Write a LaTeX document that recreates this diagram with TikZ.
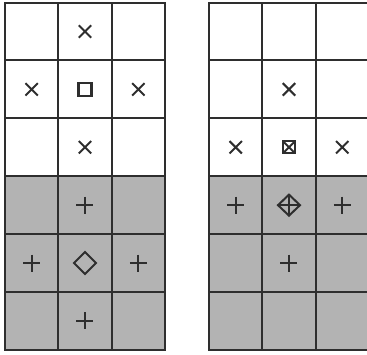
\documentclass[tikz,border=0pt]{standalone}
\definecolor{ln}{HTML}{2E2E2E}
\definecolor{sh}{HTML}{B3B3B3}
\tikzset{
  cell/.style={draw=ln, line width=2pt, minimum width=53.33pt, minimum height=57.9pt, inner sep=0pt, outer sep=0pt},
  shaded/.style={cell, fill=sh},
  sym/.style={draw=ln, line width=2pt},
  pics/xm/.style={code={\draw[sym] (-6.2,-6.2)--(6.2,6.2) (-6.2,6.2)--(6.2,-6.2);}},
  pics/pm/.style={code={\draw[sym] (-8.5,0)--(8.5,0) (0,-8.5)--(0,8.5);}},
  pics/sqm/.style={code={\draw[sym, line width=2.4pt] (-6.4,-6.4) rectangle (6.4,6.4);}},
  pics/dm/.style={code={\draw[sym] (-11,0)--(0,-11)--(11,0)--(0,11)--cycle;}},
  pics/bxm/.style={code={\draw[sym, line width=2.4pt] (-6,-6) rectangle (6,6); \draw[sym] (-6,-6)--(6,6) (-6,6)--(6,-6);}},
  pics/dpm/.style={code={\draw[sym] (-11,0)--(0,-10.5)--(11,0)--(0,10.5)--cycle; \draw[sym] (-11,0)--(11,0) (0,-10.5)--(0,10.5);}}
}
\begin{document}
\begin{tikzpicture}[x=1pt,y=-1pt]
\useasboundingbox (0,0) rectangle (367,354);
\foreach \g/\xo in {L/5,R/209}{
  \foreach \r in {1,...,6}{
    \foreach \c in {1,2,3}{
      \ifnum\r>3
        \node[shaded] (\g-\r-\c) at ({\xo+(\c-0.5)*53.33},{2.5+(\r-0.5)*57.9}) {};
      \else
        \node[cell] (\g-\r-\c) at ({\xo+(\c-0.5)*53.33},{2.5+(\r-0.5)*57.9}) {};
      \fi
    }
  }
}
% left grid symbols
\pic at (L-1-2) {xm};
\pic at (L-2-1) {xm};
\pic at (L-2-2) {sqm};
\pic at (L-2-3) {xm};
\pic at (L-3-2) {xm};
\pic at (L-4-2) {pm};
\pic at (L-5-1) {pm};
\pic at (L-5-2) {dm};
\pic at (L-5-3) {pm};
\pic at (L-6-2) {pm};
% right grid symbols
\pic at (R-2-2) {xm};
\pic at (R-3-1) {xm};
\pic at (R-3-2) {bxm};
\pic at (R-3-3) {xm};
\pic at (R-4-1) {pm};
\pic at (R-4-2) {dpm};
\pic at (R-4-3) {pm};
\pic at (R-5-2) {pm};
\end{tikzpicture}
\end{document}
